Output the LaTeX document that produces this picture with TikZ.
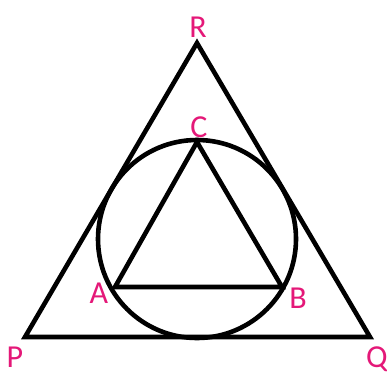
\documentclass[tikz,border=0pt]{standalone}
\usepackage{fontspec}
\setmainfont{Carlito}
\usepackage{xcolor}
\usepackage{tikz}
\usetikzlibrary{positioning,calc}
\definecolor{labelpink}{RGB}{228,24,120}
\tikzset{
  edge/.style={line width=4.6pt, draw=black, line join=miter},
  vlabel/.style={text=labelpink, font=\fontsize{32}{32}\selectfont, inner sep=0pt},
}
\begin{document}
\begin{tikzpicture}[x=1pt,y=-1pt]
    \useasboundingbox (0,0) rectangle (387,375);
    % outer triangle
    \coordinate (P) at (25,337);
    \coordinate (Q) at (370,337);
    \coordinate (R) at (197,43);
    % inscribed circle and inner triangle
    \coordinate (O) at (197,239);
    \coordinate (A) at (115,287);
    \coordinate (B) at (282,287);
    \coordinate (C) at (197,142);
    \draw[edge] (P) -- (Q) -- (R) -- cycle;
    \draw[edge] (O) circle[radius=99];
    \draw[edge] (A) -- (B) -- (C) -- cycle;
    \node[vlabel] (lR) at (198,27) {R};
    \node[vlabel] (lC) at (199,127) {C};
    \node[vlabel] (lA) at (99,293) {A};
    \node[vlabel] (lB) at (298,298) {B};
    \node[vlabel] (lP) at (15,357) {P};
    \node[vlabel] (lQ) at (377,359) {Q};
  \end{tikzpicture}
\end{document}
